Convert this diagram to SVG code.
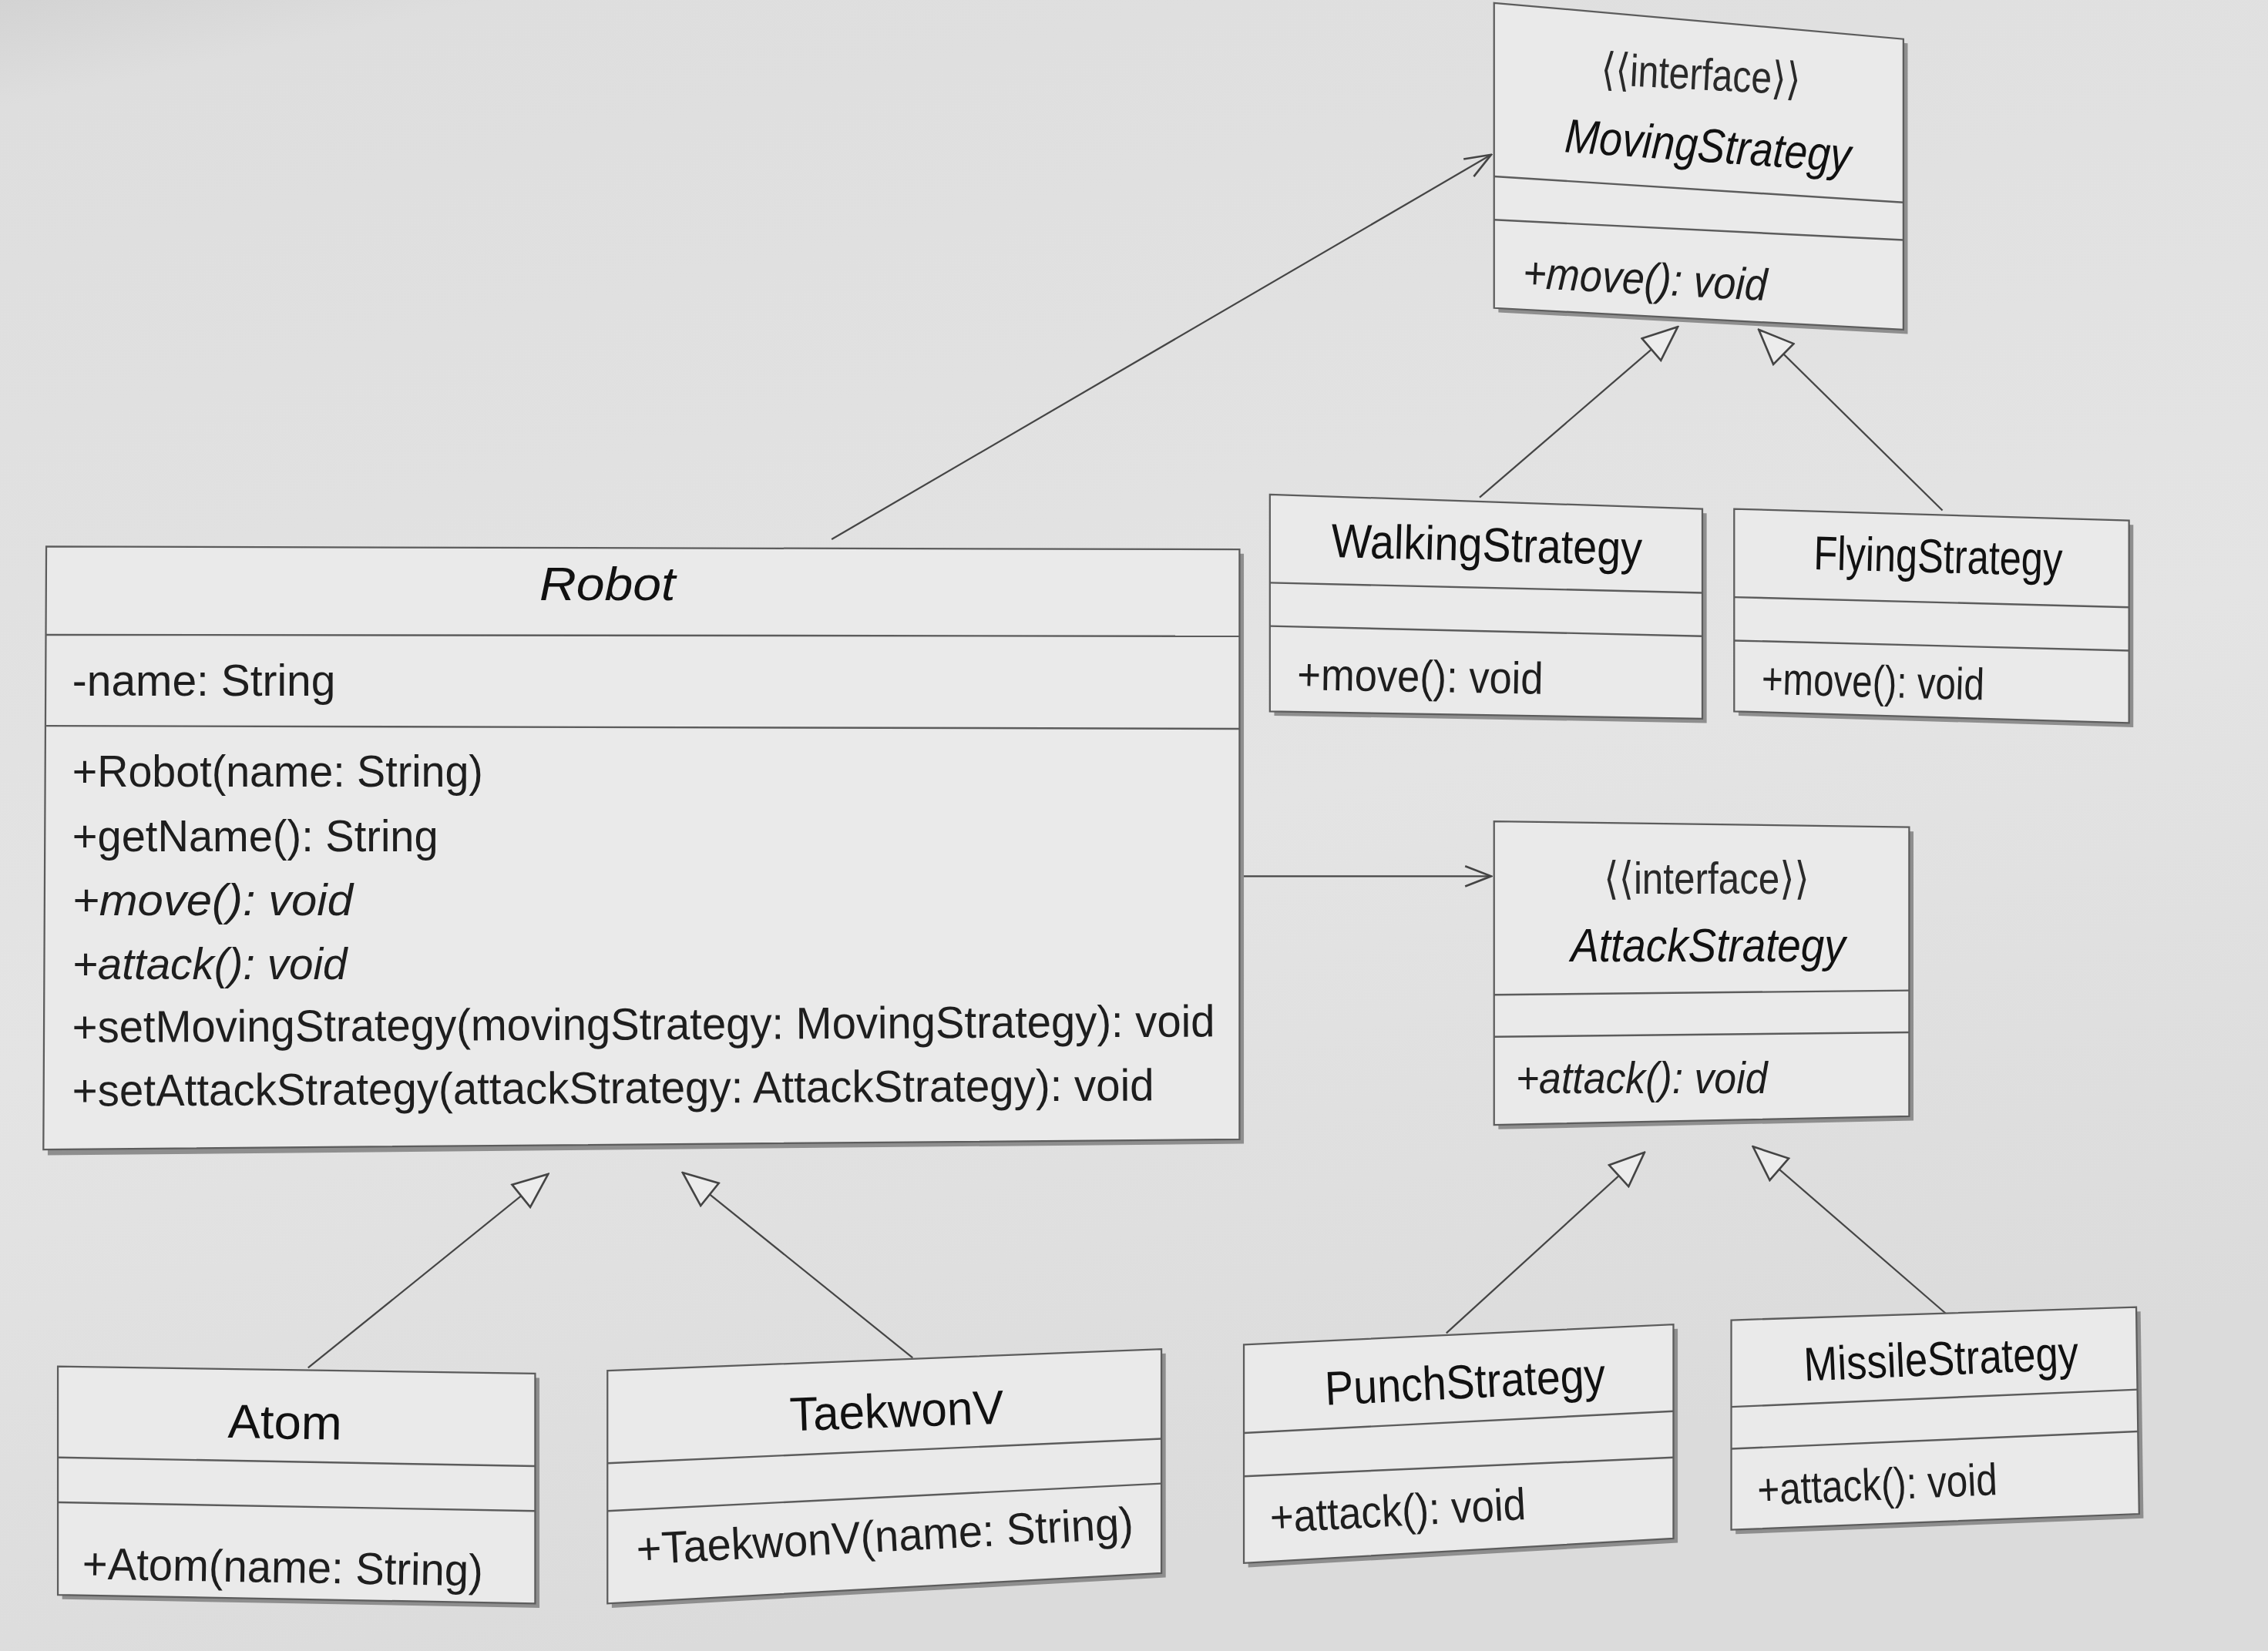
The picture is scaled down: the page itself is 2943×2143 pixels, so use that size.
<svg xmlns="http://www.w3.org/2000/svg" width="2943" height="2143" viewBox="0 0 2943 2143">
<defs>
<linearGradient id="bg" x1="0" y1="0" x2="0.3" y2="1">
<stop offset="0" stop-color="#d3d3d3"/>
<stop offset="0.06" stop-color="#dedede"/>
<stop offset="0.6" stop-color="#e4e4e4"/>
<stop offset="1" stop-color="#dbdbdb"/>
</linearGradient>
<marker id="tri" viewBox="0 0 26 22" refX="25" refY="11" markerWidth="26" markerHeight="22" markerUnits="userSpaceOnUse" orient="auto">
<path d="M1,1 L25,11 L1,21 Z" fill="#ececec" stroke="#444" stroke-width="1.4"/>
</marker>
<marker id="open" viewBox="0 0 20 16" refX="19" refY="8" markerWidth="20" markerHeight="16" markerUnits="userSpaceOnUse" orient="auto">
<path d="M1,1 L19,8 L1,15" fill="none" stroke="#444" stroke-width="1.4"/>
</marker>
</defs>
<style>
.box{fill:#eaeaea;stroke:#5c5c5c;stroke-width:1.2}
.shadow{fill:#8e8e8e}
.div{stroke:#5c5c5c;stroke-width:1.3}
.conn{stroke:#454545;stroke-width:1.2;fill:none}
text{font-family:"Liberation Sans","DejaVu Sans",sans-serif;fill:#1e1e1e}
.title{font-size:33px;fill:#111}
.mem{font-size:31px}
.it{font-style:italic}
.stereo{font-size:31px;fill:#2a2a2a}
</style>
<rect width="2943" height="2143" fill="url(#bg)"/>
<g transform="scale(1.8768)">
<g id="connectors">
<line class="conn" x1="575" y1="373" x2="1031" y2="107" marker-end="url(#open)"/>
<line class="conn" x1="858" y1="606" x2="1031" y2="606" marker-end="url(#open)"/>
<line class="conn" x1="1023" y1="344" x2="1160" y2="226" marker-end="url(#tri)"/>
<line class="conn" x1="1343" y1="353" x2="1216" y2="228" marker-end="url(#tri)"/>
<line class="conn" x1="213" y1="946" x2="379" y2="812" marker-end="url(#tri)"/>
<line class="conn" x1="631" y1="939" x2="472" y2="811" marker-end="url(#tri)"/>
<line class="conn" x1="1000" y1="922" x2="1137" y2="797" marker-end="url(#tri)"/>
<line class="conn" x1="1346" y1="909" x2="1212" y2="793" marker-end="url(#tri)"/>
</g>
<g id="MovingStrategy">
<polygon class="shadow" points="1036,5 1319,30 1319,231 1036,216"/>
<polygon class="box" points="1033,2 1316,27 1316,228 1033,213"/>
<line class="div" x1="1033" y1="122" x2="1316" y2="140"/>
<line class="div" x1="1033" y1="152" x2="1316" y2="166"/>
<text class="stereo" x="1176" y="62" text-anchor="middle" textLength="138" lengthAdjust="spacingAndGlyphs" transform="rotate(3 1176 52)">⟨⟨interface⟩⟩</text>
<text class="title it" x="1181" y="112" text-anchor="middle" textLength="198" lengthAdjust="spacingAndGlyphs" transform="rotate(4 1181 100)">MovingStrategy</text>
<text class="mem it" x="1053" y="199" textLength="169" lengthAdjust="spacingAndGlyphs" transform="rotate(3 1053 188)">+move(): void</text>
</g>
<g id="WalkingStrategy">
<polygon class="shadow" points="881,345 1180,355 1180,500 881,495"/>
<polygon class="box" points="878,342 1177,352 1177,497 878,492"/>
<line class="div" x1="878" y1="403" x2="1177" y2="410"/>
<line class="div" x1="878" y1="433" x2="1177" y2="440"/>
<text class="title" x="1028" y="388" text-anchor="middle" textLength="215" lengthAdjust="spacingAndGlyphs" transform="rotate(1.5 1028 376)">WalkingStrategy</text>
<text class="mem" x="897" y="477" textLength="170" lengthAdjust="spacingAndGlyphs" transform="rotate(1 897 466)">+move(): void</text>
</g>
<g id="FlyingStrategy">
<polygon class="shadow" points="1202,355 1475,363 1475,503 1202,495"/>
<polygon class="box" points="1199,352 1472,360 1472,500 1199,492"/>
<line class="div" x1="1199" y1="413" x2="1472" y2="420"/>
<line class="div" x1="1199" y1="443" x2="1472" y2="450"/>
<text class="title" x="1340" y="396" text-anchor="middle" textLength="172" lengthAdjust="spacingAndGlyphs" transform="rotate(1.5 1340 384)">FlyingStrategy</text>
<text class="mem" x="1218" y="480" textLength="154" lengthAdjust="spacingAndGlyphs" transform="rotate(1.5 1218 469)">+move(): void</text>
</g>
<g id="Robot">
<polygon class="shadow" points="35,381 860,383 860,791 33,799"/>
<polygon class="box" points="32,378 857,380 857,788 30,795"/>
<line class="div" x1="32" y1="439" x2="857" y2="440"/>
<line class="div" x1="32" y1="502" x2="857" y2="504"/>
<text class="title it" x="420" y="415" text-anchor="middle" textLength="94" lengthAdjust="spacingAndGlyphs">Robot</text>
<text class="mem" x="50" y="481" textLength="182" lengthAdjust="spacingAndGlyphs">-name: String</text>
<text class="mem" x="50" y="544" textLength="284" lengthAdjust="spacingAndGlyphs">+Robot(name: String)</text>
<text class="mem" x="50" y="589" textLength="253" lengthAdjust="spacingAndGlyphs">+getName(): String</text>
<text class="mem it" x="50" y="633" textLength="194" lengthAdjust="spacingAndGlyphs">+move(): void</text>
<text class="mem it" x="50" y="677" textLength="190" lengthAdjust="spacingAndGlyphs">+attack(): void</text>
<text class="mem" x="50" y="721" textLength="790" lengthAdjust="spacingAndGlyphs" transform="rotate(-0.3 50 721)">+setMovingStrategy(movingStrategy: MovingStrategy): void</text>
<text class="mem" x="50" y="765" textLength="748" lengthAdjust="spacingAndGlyphs" transform="rotate(-0.3 50 765)">+setAttackStrategy(attackStrategy: AttackStrategy): void</text>
</g>
<g id="AttackStrategy">
<polygon class="shadow" points="1036,571 1323,575 1323,775 1036,781"/>
<polygon class="box" points="1033,568 1320,572 1320,772 1033,778"/>
<line class="div" x1="1033" y1="688" x2="1320" y2="685"/>
<line class="div" x1="1033" y1="717" x2="1320" y2="714"/>
<text class="stereo" x="1180" y="618" text-anchor="middle" textLength="142" lengthAdjust="spacingAndGlyphs">⟨⟨interface⟩⟩</text>
<text class="title it" x="1181" y="665" text-anchor="middle" textLength="190" lengthAdjust="spacingAndGlyphs">AttackStrategy</text>
<text class="mem it" x="1048" y="756" textLength="174" lengthAdjust="spacingAndGlyphs">+attack(): void</text>
</g>
<g id="Atom">
<polygon class="shadow" points="43,948 373,953 373,1112 43,1106"/>
<polygon class="box" points="40,945 370,950 370,1109 40,1103"/>
<line class="div" x1="40" y1="1008" x2="370" y2="1014"/>
<line class="div" x1="40" y1="1039" x2="370" y2="1045"/>
<text class="title" x="197" y="995" text-anchor="middle" textLength="79" lengthAdjust="spacingAndGlyphs" transform="rotate(1 197 983)">Atom</text>
<text class="mem" x="57" y="1092" textLength="277" lengthAdjust="spacingAndGlyphs" transform="rotate(1 57 1081)">+Atom(name: String)</text>
</g>
<g id="TaekwonV">
<polygon class="shadow" points="423,951 806,936 806,1091 423,1112"/>
<polygon class="box" points="420,948 803,933 803,1088 420,1109"/>
<line class="div" x1="420" y1="1012" x2="803" y2="995"/>
<line class="div" x1="420" y1="1045" x2="803" y2="1026"/>
<text class="title" x="620" y="987" text-anchor="middle" textLength="148" lengthAdjust="spacingAndGlyphs" transform="rotate(-2 620 975)">TaekwonV</text>
<text class="mem" x="440" y="1082" textLength="344" lengthAdjust="spacingAndGlyphs" transform="rotate(-3 440 1071)">+TaekwonV(name: String)</text>
</g>
<g id="PunchStrategy">
<polygon class="shadow" points="863,933 1160,919 1160,1067 863,1084"/>
<polygon class="box" points="860,930 1157,916 1157,1064 860,1081"/>
<line class="div" x1="860" y1="991" x2="1157" y2="976"/>
<line class="div" x1="860" y1="1021" x2="1157" y2="1008"/>
<text class="title" x="1013" y="967" text-anchor="middle" textLength="194" lengthAdjust="spacingAndGlyphs" transform="rotate(-2.8 1013 956)">PunchStrategy</text>
<text class="mem" x="878" y="1060" textLength="177" lengthAdjust="spacingAndGlyphs" transform="rotate(-3 878 1049)">+attack(): void</text>
</g>
<g id="MissileStrategy">
<polygon class="shadow" points="1200,916 1480,907 1482,1050 1200,1061"/>
<polygon class="box" points="1197,913 1477,904 1479,1047 1197,1058"/>
<line class="div" x1="1197" y1="973" x2="1478" y2="961"/>
<line class="div" x1="1197" y1="1002" x2="1478" y2="990"/>
<text class="title" x="1342" y="951" text-anchor="middle" textLength="190" lengthAdjust="spacingAndGlyphs" transform="rotate(-2.5 1342 940)">MissileStrategy</text>
<text class="mem" x="1215" y="1041" textLength="166" lengthAdjust="spacingAndGlyphs" transform="rotate(-2.5 1215 1030)">+attack(): void</text>
</g>
</g>
</svg>
